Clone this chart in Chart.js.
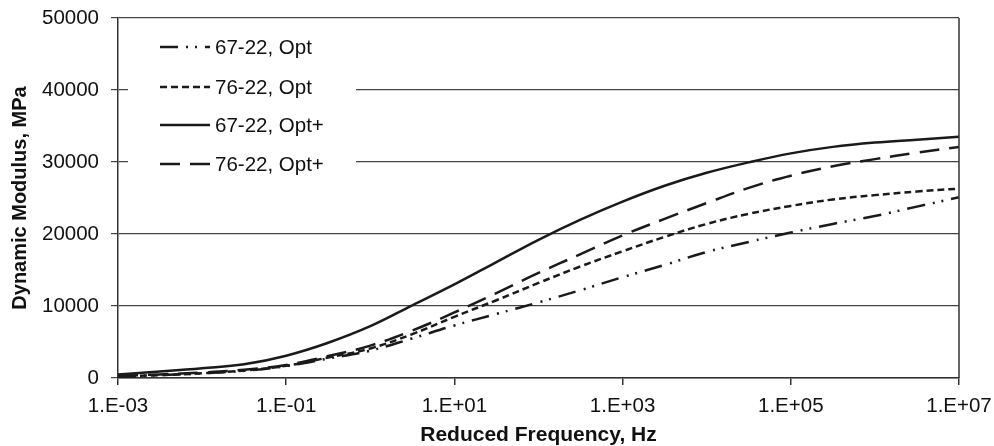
<!DOCTYPE html>
<html>
<head>
<meta charset="utf-8">
<script src="https://cdn.jsdelivr.net/npm/chart.js@4.4.1/dist/chart.umd.min.js"></script>
<style>
  html, body { margin: 0; padding: 0; background: #fff; }
  #wrap { width: 994px; height: 446px; }
</style>
</head>
<body>
<div id="wrap"><canvas id="chart" width="994" height="446"></canvas></div>
<script>
// reduced frequency, Hz (half decades)
const freq = [0.001, 0.00316, 0.01, 0.0316, 0.1, 0.316, 1, 3.16, 10, 31.6, 100, 316,
  1000, 3160, 10000, 31600, 100000, 316000, 1000000, 3160000, 10000000];

// dynamic modulus, MPa
const opt6722 = [150, 400, 650, 1000, 1650, 2700, 3800, 5500, 7300, 8900, 10500, 12200,
  14000, 15700, 17500, 18900, 20200, 21400, 22500, 23800, 25100];
const opt7622 = [200, 400, 650, 1050, 1700, 2850, 4100, 6100, 8500, 10800, 13200, 15500,
  17600, 19600, 21400, 22800, 23900, 24800, 25400, 25900, 26300];
const optPlus6722 = [500, 900, 1350, 1900, 3100, 4900, 7200, 10100, 13000, 16100, 19200, 22000,
  24500, 26700, 28500, 29950, 31200, 32100, 32700, 33100, 33500];
const optPlus7622 = [300, 500, 750, 1150, 1800, 3050, 4500, 6600, 9100, 11800, 14600, 17200,
  19800, 22100, 24300, 26400, 28100, 29400, 30400, 31300, 32100];

const seriesNames = ["67-22, Opt", "76-22, Opt", "67-22, Opt+", "76-22, Opt+"];
const xTickValues = [0.001, 0.1, 10, 1000, 100000, 10000000];
const xTickLabels = ["1.E-03", "1.E-01", "1.E+01", "1.E+03", "1.E+05", "1.E+07"];
const yTickValues = [0, 10000, 20000, 30000, 40000, 50000];

const FONT = '"Liberation Sans", Arial, sans-serif';
const INK = "#1a1a1a";

function series(label, vals, dash) {
  return {
    label: label,
    data: freq.map((f, i) => ({ x: f, y: vals[i] })),
    borderColor: INK,
    borderWidth: 2.5,
    borderDash: dash,
    pointRadius: 0,
    fill: false,
    tension: 0.4
  };
}

// legend box sitting inside the plot, white behind it
const boxLegend = {
  id: "boxLegend",
  beforeDatasetsDraw(chart) {
    const ctx = chart.ctx;
    ctx.save();
    ctx.fillStyle = "#fff";
    ctx.fillRect(128, 27, 228, 156);
    const rows = [47, 87, 125, 164];
    chart.data.datasets.forEach((ds, i) => {
      const y = rows[i];
      ctx.strokeStyle = INK;
      ctx.lineWidth = 2.5;
      ctx.setLineDash(ds.borderDash || []);
      ctx.beginPath();
      ctx.moveTo(160, y);
      ctx.lineTo(210, y);
      ctx.stroke();
      ctx.setLineDash([]);
      ctx.fillStyle = "#111";
      ctx.font = "20.5px " + FONT;
      ctx.textBaseline = "middle";
      ctx.fillText(ds.label, 215, y + 1);
    });
    ctx.restore();
  },
  afterDraw(chart) {
    // right edge of the plot frame
    const a = chart.chartArea;
    const ctx = chart.ctx;
    ctx.save();
    ctx.strokeStyle = "#333";
    ctx.lineWidth = 1.5;
    ctx.beginPath();
    ctx.moveTo(a.right, a.top);
    ctx.lineTo(a.right, a.bottom);
    ctx.stroke();
    ctx.restore();
  }
};

new Chart(document.getElementById("chart"), {
  type: "line",
  data: {
    datasets: [
      series(seriesNames[0], opt6722, [18, 8, 2, 7, 2, 8]),
      series(seriesNames[1], opt7622, [7, 4]),
      series(seriesNames[2], optPlus6722, []),
      series(seriesNames[3], optPlus7622, [20, 10])
    ]
  },
  options: {
    responsive: false,
    animation: false,
    layout: { padding: { top: 18, right: 35, left: 0, bottom: 0 } },
    plugins: { legend: { display: false }, tooltip: { enabled: false } },
    scales: {
      x: {
        type: "logarithmic",
        min: 0.001,
        max: 10000000,
        afterBuildTicks: s => { s.ticks = xTickValues.map(v => ({ value: v })); },
        afterFit: s => { s.height = 68; s.paddingLeft = 0; s.paddingRight = 0; },
        ticks: {
          autoSkip: false,
          maxRotation: 0,
          padding: 9,
          color: "#111",
          font: { family: FONT, size: 20.5 },
          callback: (v, i) => xTickLabels[i]
        },
        grid: { drawOnChartArea: false, drawTicks: true, tickLength: 7, color: "#333", lineWidth: 1.5 },
        border: { display: true, color: "#333", width: 1.5 },
        title: {
          display: true,
          text: "Reduced Frequency, Hz",
          color: "#111",
          font: { family: FONT, size: 21, weight: "bold" },
          padding: { top: 0, bottom: -2 }
        }
      },
      y: {
        min: 0,
        max: 50000,
        afterBuildTicks: s => { s.ticks = yTickValues.map(v => ({ value: v })); },
        afterFit: s => { s.width = 118; s.paddingTop = 0; s.paddingBottom = 0; },
        ticks: {
          padding: 12,
          color: "#111",
          font: { family: FONT, size: 20.5 },
          callback: v => String(v)
        },
        grid: { color: "#444", lineWidth: 1.2, drawTicks: true, tickLength: 7 },
        border: { display: true, color: "#333", width: 1.5 },
        title: {
          display: true,
          text: "Dynamic Modulus, MPa",
          color: "#111",
          font: { family: FONT, size: 20, weight: "bold" },
          padding: { top: 8, bottom: 0 }
        }
      }
    }
  },
  plugins: [boxLegend]
});
</script>
</body>
</html>
